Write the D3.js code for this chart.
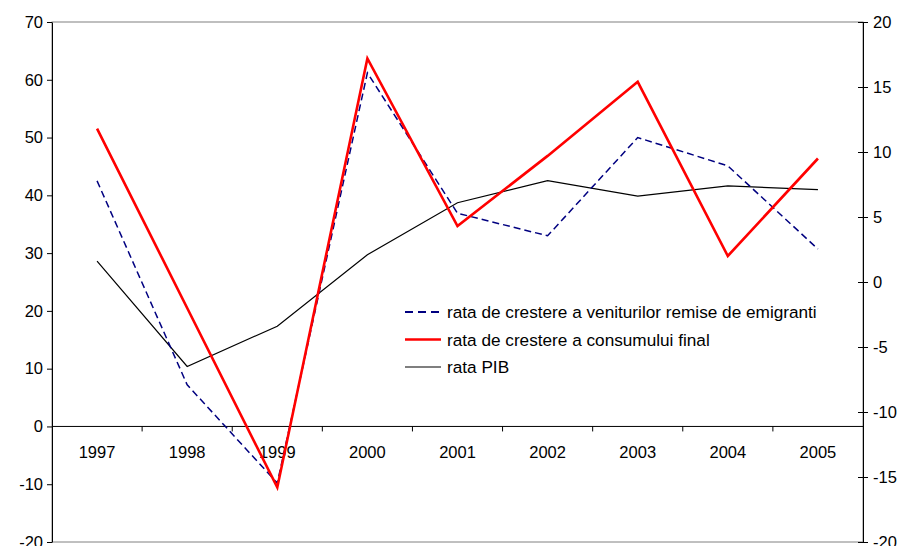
<!DOCTYPE html>
<html>
  <head>
    <meta charset="utf-8">
    <script src="https://d3js.org/d3.v7.min.js"></script>
    <style>
      body { margin: 0; background: #fff; }
      text { font-family: "Liberation Sans", Arial, sans-serif; }
    </style>
  </head>
  <body>
    <div id="chart"></div>
    <script>
      const years = ["1997", "1998", "1999", "2000", "2001", "2002", "2003", "2004", "2005"];
      // left axis
      const remittances = [42.5, 7.2, -9.8, 61.2, 36.9, 33.0, 50.0, 45.1, 30.7];
      // right axis
      const consumption = [11.8, -2.0, -15.8, 17.2, 4.3, 9.7, 15.4, 2.0, 9.5];
      const gdp = [1.6, -6.5, -3.4, 2.1, 6.1, 7.8, 6.6, 7.4, 7.1];
      const leftTicks = [-20, -10, 0, 10, 20, 30, 40, 50, 60, 70];
      const rightTicks = [-20, -15, -10, -5, 0, 5, 10, 15, 20];
      const legendLabels = [
        "rata de crestere a veniturilor remise de emigranti",
        "rata de crestere a consumului final",
        "rata PIB",
      ];

      const width = 902;
      const height = 546;
      const m = { left: 52, right: 863, top: 22, bottom: 542 };
      const fs = "16.5px";
      const fmt = (d) => String(d); // plain hyphen for negatives

      const svg = d3
        .select("#chart")
        .append("svg")
        .attr("width", width)
        .attr("height", height);

      const x = d3.scaleBand().domain(years).range([m.left, m.right]);
      const cx = (d) => x(d) + x.bandwidth() / 2;
      const yL = d3.scaleLinear().domain([-20, 70]).range([m.bottom, m.top]);
      const yR = d3.scaleLinear().domain([-20, 20]).range([m.bottom, m.top]);

      // plot area border
      svg.append("rect")
        .attr("x", m.left).attr("y", m.top)
        .attr("width", m.right - m.left).attr("height", m.bottom - m.top)
        .attr("fill", "none").attr("stroke", "#808080").attr("stroke-width", 1);

      // left axis
      const gl = svg.append("g")
        .attr("transform", `translate(${m.left},0)`)
        .call(d3.axisLeft(yL).tickValues(leftTicks).tickFormat(fmt).tickSize(5).tickSizeOuter(0));
      gl.select(".domain").attr("stroke", "#000");
      gl.selectAll("text").style("font-size", fs).attr("fill", "#000").attr("x", -9);

      // right axis, ticks crossing the line
      const gr = svg.append("g")
        .attr("transform", `translate(${m.right},0)`)
        .call(d3.axisRight(yR).tickValues(rightTicks).tickFormat(fmt).tickSize(5).tickSizeOuter(0));
      gr.select(".domain").attr("stroke", "#000");
      gr.selectAll(".tick line").attr("x1", -5).attr("x2", 5);
      gr.selectAll("text").style("font-size", fs).attr("fill", "#000").attr("x", 10);

      // category axis at zero of the left scale
      const y0 = yL(0);
      svg.append("line")
        .attr("x1", m.left).attr("x2", m.right)
        .attr("y1", y0).attr("y2", y0)
        .attr("stroke", "#000");
      svg.selectAll(".cattick")
        .data(years.slice(1))
        .enter()
        .append("line")
        .attr("x1", (d) => x(d)).attr("x2", (d) => x(d))
        .attr("y1", y0).attr("y2", y0 + 5)
        .attr("stroke", "#000");
      svg.selectAll(".catlabel")
        .data(years)
        .enter()
        .append("text")
        .attr("x", cx)
        .attr("y", y0 + 32)
        .attr("text-anchor", "middle")
        .style("font-size", fs)
        .text((d) => d);

      const lineL = d3.line().x((d, i) => cx(years[i])).y((d) => yL(d));
      const lineR = d3.line().x((d, i) => cx(years[i])).y((d) => yR(d));

      svg.append("path")
        .attr("d", lineR(gdp))
        .attr("fill", "none").attr("stroke", "#000").attr("stroke-width", 1.2);
      svg.append("path")
        .attr("d", lineL(remittances))
        .attr("fill", "none").attr("stroke", "#000080")
        .attr("stroke-width", 1.5).attr("stroke-dasharray", "7,4");
      svg.append("path")
        .attr("d", lineR(consumption))
        .attr("fill", "none").attr("stroke", "#ff0000").attr("stroke-width", 2.6)
        .attr("stroke-linejoin", "miter");

      // legend
      const legStyles = [
        { stroke: "#000080", w: 2.2, dash: "8,5" },
        { stroke: "#ff0000", w: 2.6, dash: null },
        { stroke: "#000", w: 1.2, dash: null },
      ];
      const leg = svg.append("g").attr("transform", "translate(405,312)");
      legendLabels.forEach((t, i) => {
        const s = legStyles[i];
        const yy = i * 27.5;
        leg.append("line")
          .attr("x1", 0).attr("x2", 36)
          .attr("y1", yy).attr("y2", yy)
          .attr("stroke", s.stroke).attr("stroke-width", s.w)
          .attr("stroke-dasharray", s.dash);
        leg.append("text")
          .attr("x", 42).attr("y", yy + 6)
          .style("font-size", "17.2px")
          .text(t);
      });
    </script>
  </body>
</html>
